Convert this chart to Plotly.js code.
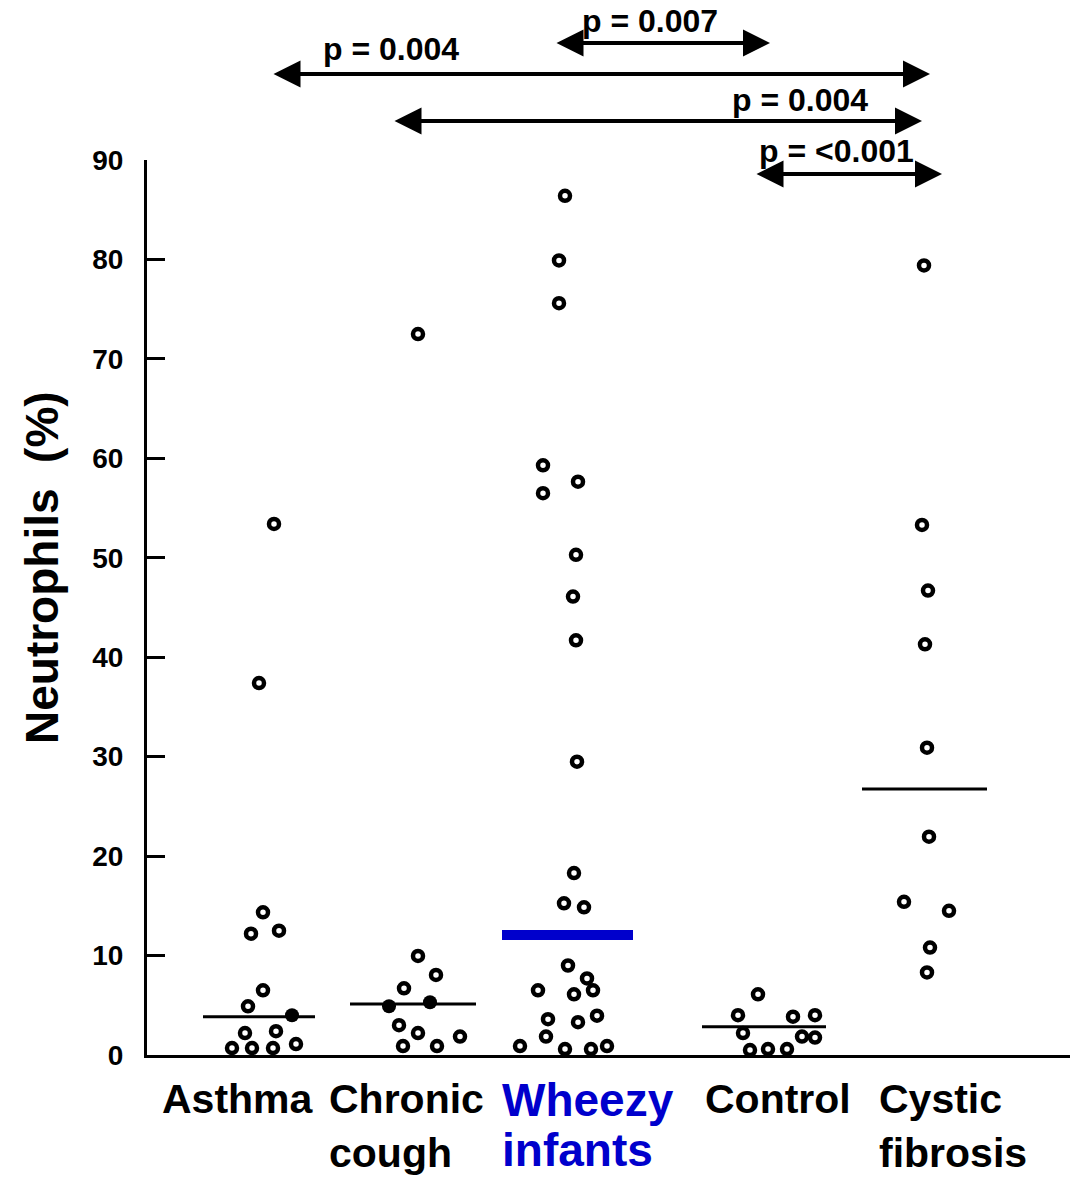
<!DOCTYPE html>
<html>
<head>
<meta charset="utf-8">
<script src="https://cdn.plot.ly/plotly-3.0.1.min.js"></script>
<style>html,body{margin:0;padding:0;background:#fff;}#chart{width:1075px;height:1179px;}</style>
</head>
<body>
<div id="chart"></div>
<script>
// ---- data ----
const categoryLine1 = ["Asthma", "Chronic", "Wheezy", "Control", "Cystic"];
const categoryLine2 = ["", "cough", "infants", "", "fibrosis"];
const asthmaValues  = [53.4, 37.4, 14.35, 12.2, 12.5, 6.5, 4.9, 2.2, 2.4, 0.7, 0.7, 0.7, 1.1];
const asthmaJitter  = [9, -6, -2, -14, 14, -2, -17, -20, 11, -33, -13, 8, 31];
const asthmaFilled  = [4.0];
const asthmaFilledJitter = [27];
const coughValues   = [72.5, 9.96, 8.05, 6.7, 3.0, 2.2, 1.85, 0.9, 0.9];
const coughJitter   = [-2, -2, 16, -16, -21, -2, 40, -17, 17];
const coughFilled   = [4.9, 5.3];
const coughFilledJitter = [-31, 10];
const wheezyValues  = [86.4, 79.9, 75.6, 59.3, 57.65, 56.5, 50.3, 46.1, 41.7, 29.5, 18.3, 15.25, 14.85, 9.0, 7.7, 6.5, 6.1, 6.5, 3.6, 3.3, 3.95, 1.85, 0.9, 0.6, 0.6, 0.9];
const wheezyJitter  = [-3, -9, -9, -25, 10, -25, 8, 5, 8, 9, 6, -4, 16, 0, 19, -30, 6, 25, -20, 10, 29, -22, -48, -3, 23, 39];
const controlValues = [6.1, 4.0, 3.85, 4.0, 2.2, 1.85, 1.75, 0.5, 0.6, 0.6];
const controlJitter = [-17, -37, 18, 40, -32, 27, 40, -25, -7, 12];
const cfValues      = [79.4, 53.3, 46.7, 41.3, 30.9, 21.95, 15.4, 14.5, 10.8, 8.3];
const cfJitter      = [-1, -3, 3, 0, 2, 4, -21, 24, 5, 2];
const medians       = [3.85, 5.13, 12.07, 2.85, 26.75];
const pLabels       = ["p = 0.007", "p = 0.004", "p = 0.004", "p = <0.001"];
const yTicks        = [0, 10, 20, 30, 40, 50, 60, 70, 80, 90];

// ---- layout helpers (positions, not data) ----
const catPos = [265, 420, 568, 775, 925];
const medExtent = [[-62, 50], [-70, 56], [-66, 65], [-73, 51], [-63, 62]];
const labelLeft = [160, 327, 500, 703, 877];
const FONT = "Liberation Sans, Arial, Helvetica, sans-serif";
const BLUE = "#0000CC";

function openTrace(vals, jit, ci) {
  return {
    type: "scatter", mode: "markers", cliponaxis: false, hoverinfo: "skip",
    x: vals.map((v, i) => catPos[ci] + jit[i]), y: vals,
    marker: {symbol: "circle", size: 10, color: "#ffffff", line: {color: "#000", width: 4.5}}
  };
}
function filledTrace(vals, jit, ci) {
  return {
    type: "scatter", mode: "markers", cliponaxis: false, hoverinfo: "skip",
    x: vals.map((v, i) => catPos[ci] + jit[i]), y: vals,
    marker: {symbol: "circle", size: 14, color: "#000"}
  };
}
const traces = [];
medians.forEach((m, ci) => {
  traces.push({
    type: "scatter", mode: "lines", hoverinfo: "skip", cliponaxis: false,
    x: [catPos[ci] + medExtent[ci][0], catPos[ci] + medExtent[ci][1]], y: [m, m],
    line: {color: ci === 2 ? BLUE : "#000", width: ci === 2 ? 10 : 3}
  });
});
traces.push(openTrace(asthmaValues, asthmaJitter, 0));
traces.push(filledTrace(asthmaFilled, asthmaFilledJitter, 0));
traces.push(openTrace(coughValues, coughJitter, 1));
traces.push(filledTrace(coughFilled, coughFilledJitter, 1));
traces.push(openTrace(wheezyValues, wheezyJitter, 2));
traces.push(openTrace(controlValues, controlJitter, 3));
traces.push(openTrace(cfValues, cfJitter, 4));

// pixel -> paper helpers for annotation placement
const PX = px => (px - 147) / 923;
const PY = py => (1055 - py) / 895;
const annotations = [];
// comparison arrows: [left px, right px, y px], label [center px, y px]
const arrows = [[555, 770, 43], [272, 930, 74], [393, 922, 121], [755, 942, 174]];
const pPos = [[650, 21], [391, 49], [800, 100], [836, 151]];
arrows.forEach((a, i) => {
  annotations.push({
    xref: "paper", yref: "paper", axref: "pixel", ayref: "pixel",
    x: PX(a[1]), y: PY(a[2]), ax: a[0] - a[1], ay: 0,
    text: "", showarrow: true, arrowside: "end+start", arrowhead: 2,
    arrowwidth: 4, arrowsize: 1.35, arrowcolor: "#000", standoff: 0, startstandoff: 0
  });
  annotations.push({
    xref: "paper", yref: "paper", x: PX(pPos[i][0]), y: PY(pPos[i][1]),
    text: pLabels[i], showarrow: false, xanchor: "center", yanchor: "middle",
    font: {family: FONT, size: 32, weight: "bold", color: "#000"}
  });
});
categoryLine1.forEach((c, i) => {
  const big = i === 2;
  const col = big ? BLUE : "#000";
  const sz = big ? 46 : 41;
  annotations.push({
    xref: "paper", yref: "paper", x: PX(labelLeft[i]), y: PY(big ? 1072 : 1074),
    text: c, showarrow: false, xanchor: "left", yanchor: "top", align: "left",
    font: {family: FONT, size: sz, weight: "bold", color: col}
  });
  if (categoryLine2[i]) {
    annotations.push({
      xref: "paper", yref: "paper", x: PX(labelLeft[i]), y: PY(big ? 1122 : 1128),
      text: categoryLine2[i], showarrow: false, xanchor: "left", yanchor: "top", align: "left",
      font: {family: FONT, size: sz, weight: "bold", color: col}
    });
  }
});
annotations.push({
  xref: "paper", yref: "paper", x: PX(42), y: PY(568),
  text: "Neutrophils&nbsp;&nbsp;(%)", textangle: -90, showarrow: false,
  xanchor: "center", yanchor: "middle",
  font: {family: FONT, size: 46, weight: "bold", color: "#000"}
});

const layout = {
  width: 1075, height: 1179,
  margin: {l: 147, r: 5, t: 160, b: 124},
  paper_bgcolor: "#fff", plot_bgcolor: "#fff",
  showlegend: false,
  xaxis: {range: [147, 1070], showgrid: false, zeroline: false, showticklabels: false,
          ticks: "", showline: true, linecolor: "#000", linewidth: 3, fixedrange: true},
  yaxis: {range: [0, 90], tickvals: yTicks, ticktext: yTicks.map(String), showgrid: false, zeroline: false,
          ticks: "inside", ticklen: 18, tickwidth: 3, tickcolor: "#000",
          showline: true, linecolor: "#000", linewidth: 3, ticklabelstandoff: 15,
          tickfont: {family: FONT, size: 28, weight: "bold", color: "#000"}, fixedrange: true},
  annotations: annotations
};
Plotly.newPlot("chart", traces, layout, {staticPlot: true, displayModeBar: false});
</script>
</body>
</html>
